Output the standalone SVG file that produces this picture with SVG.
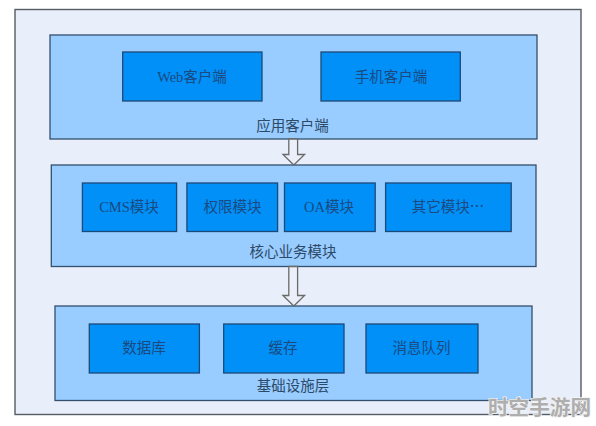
<svg xmlns="http://www.w3.org/2000/svg" width="596" height="426" viewBox="0 0 596 426">
<style>
.panel{fill:#99ccff;stroke:#33506e;stroke-width:1.3}
.box{fill:#0090f8;stroke:#1c4a78;stroke-width:1.3}
text{font-family:"Liberation Serif","Noto Sans CJK SC",serif;font-size:14.500px;text-anchor:middle;fill:#1a4a80}
.cap{fill:#2c4a68}
.cjk{font-family:"Noto Sans CJK SC",sans-serif}
.arrow{fill:#eaeffa;stroke:#6a6a6a;stroke-width:1.3}
.wm{font-family:"Noto Sans CJK SC",sans-serif;font-size:20.600px;font-weight:700;fill:#aeaeae;stroke:#f4f4f4;stroke-width:1.500;paint-order:stroke}
</style>
<rect width="596" height="426" fill="#ffffff"/>
<g id="outer"><rect x="15" y="9.500" width="566" height="405" fill="#e8eefa" stroke="#555c66" stroke-width="1.400"/></g>
<g id="app-layer"><rect class="panel" x="50" y="35" width="487" height="104"/><text class="cap" x="292.500" y="130.500">应用客户端</text></g>
<g id="web-client"><rect class="box" x="122.700" y="52" width="139.300" height="49"/><text x="192" y="82">Web客户端</text></g>
<g id="mobile-client"><rect class="box" x="321" y="52" width="139.300" height="49"/><text x="391" y="82">手机客户端</text></g>
<g id="core-layer"><rect class="panel" x="51.300" y="165" width="484.700" height="101.500"/><text class="cap" x="293" y="256.500">核心业务模块</text></g>
<g id="cms"><rect class="box" x="82.400" y="183" width="94.200" height="48.500"/><text x="129" y="212">CMS模块</text></g>
<g id="perm"><rect class="box" x="186.900" y="183" width="90.700" height="48.500"/><text x="232.500" y="212">权限模块</text></g>
<g id="oa"><rect class="box" x="284.500" y="183" width="90.700" height="48.500"/><text x="329" y="212">OA模块</text></g>
<g id="other"><rect class="box" x="385.600" y="183" width="125.600" height="48.500"/><text x="448" y="212">其它模块<tspan class="cjk">…</tspan></text></g>
<g id="infra-layer"><rect class="panel" x="55" y="306" width="477" height="94.500"/><text class="cap" x="293" y="391">基础设施层</text></g>
<g id="db"><rect class="box" x="89.300" y="324" width="110.100" height="49"/><text x="144" y="353">数据库</text></g>
<g id="cache"><rect class="box" x="223.700" y="324" width="120.300" height="49"/><text x="283" y="353">缓存</text></g>
<g id="mq"><rect class="box" x="366" y="324" width="112" height="49"/><text x="421.500" y="353">消息队列</text></g>
<g id="connectors">
<path class="arrow" d="M288.800 139V154.500H283L293.800 165L304.600 154.500H297.600V139Z"/>
<path class="arrow" d="M288.800 266.500V295.500H283L293.800 306L304.600 295.500H297.600V266.500Z"/>
</g>
<text class="wm" x="539.500" y="415">时空手游网</text>
</svg>
